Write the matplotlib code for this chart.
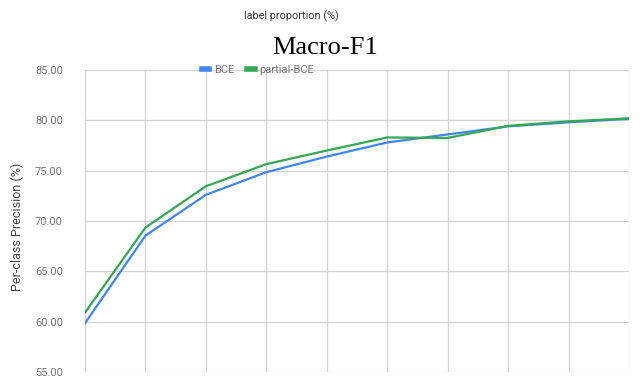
import matplotlib
matplotlib.use("Agg")
import matplotlib.pyplot as plt
from matplotlib.lines import Line2D

# Data
label_proportion = [10, 20, 30, 40, 50, 60, 70, 80, 90, 100]
bce = [59.85, 68.55, 72.6, 74.85, 76.4, 77.8, 78.6, 79.4, 79.8, 80.15]
partial_bce = [60.9, 69.35, 73.45, 75.65, 77.0, 78.3, 78.25, 79.45, 79.9, 80.2]
y_ticks = [55, 60, 65, 70, 75, 80, 85]

W, H = 642, 379
fig = plt.figure(figsize=(W / 100, H / 100), dpi=100)
ax = fig.add_axes([85 / W, 1 - 372 / H, (629 - 85) / W, (372 - 70) / H])

blue = "#4285F4"
green = "#34A853"
grey_text = "#757575"

ax.plot(label_proportion, bce, color=blue, lw=1.6, solid_joinstyle="round")
ax.plot(label_proportion, partial_bce, color=green, lw=1.6, solid_joinstyle="round")

ax.set_xlim(label_proportion[0], label_proportion[-1])
ax.set_ylim(y_ticks[0], y_ticks[-1])
ax.set_xticks(label_proportion)
ax.set_xticklabels([])
ax.set_yticks(y_ticks)
ax.set_yticklabels([f"{v:.2f}" for v in y_ticks], fontfamily="Roboto", fontsize=8, color=grey_text)
ax.tick_params(axis="y", length=0, pad=16)
ax.tick_params(axis="x", length=0)
ax.grid(True, color="#d3d3d3", lw=0.9)
ax.set_axisbelow(True)
for s in ax.spines.values():
    s.set_visible(False)

ax.set_ylabel("Per-class Precision (%)", fontfamily="Roboto", fontsize=9, color="#444444")
ax.yaxis.set_label_coords(-(85 - 24) / (629 - 85), 0.48)

fig.text(291 / W, 1 - 16 / H, "label proportion (%)", ha="center", va="center",
         fontfamily="Roboto", fontsize=7.8, color="#333333")
fig.text(325 / W, 1 - 48 / H, "Macro-F1", ha="center", va="center",
         fontfamily="Liberation Serif", fontsize=19, color="black")

handles = [Line2D([], [], color=blue, lw=4), Line2D([], [], color=green, lw=4)]
leg = fig.legend(handles, ["BCE", "partial-BCE"], loc="center", bbox_to_anchor=(258 / W, 1 - 70 / H),
                 ncol=2, frameon=False, handlelength=0.7, handletextpad=0.4, columnspacing=1.2,
                 prop={"family": "Roboto", "size": 8})
for t in leg.get_texts():
    t.set_color(grey_text)

fig.savefig("out.png", dpi=100)
